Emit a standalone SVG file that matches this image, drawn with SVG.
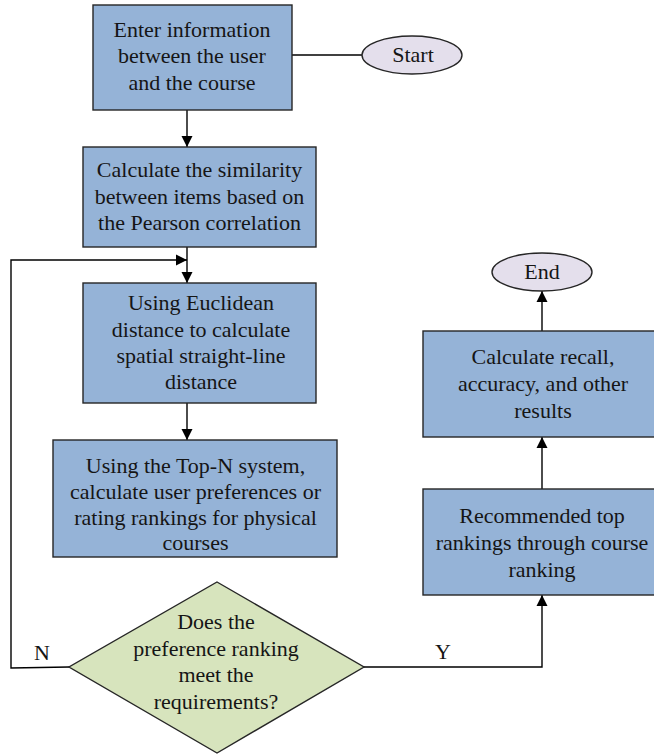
<svg xmlns="http://www.w3.org/2000/svg" width="654" height="755" viewBox="0 0 654 755">
  <style>
    .box { fill: #95b3d7; stroke: #262626; stroke-width: 1.4; }
    .term { fill: #e4dfec; stroke: #262626; stroke-width: 1.4; }
    .dec { fill: #d7e4bd; stroke: #262626; stroke-width: 1.4; }
    .wire { fill: none; stroke: #000; stroke-width: 1.4; }
    text { font-family: "Liberation Serif", "Times New Roman", serif; font-size: 22px; fill: #151515; text-anchor: middle; }
  </style>
  <defs>
    <marker id="arrow" markerUnits="userSpaceOnUse" markerWidth="12" markerHeight="12" refX="11" refY="6" orient="auto">
      <path d="M0,0.5 L11,6 L0,11.5 z" fill="#000"/>
    </marker>
  </defs>

  <rect width="654" height="755" fill="#fff"/>

  <!-- connectors -->
  <g id="connectors">
    <line class="wire" x1="362" y1="55" x2="292" y2="55"/>
    <line class="wire" x1="187" y1="110" x2="187" y2="147" marker-end="url(#arrow)"/>
    <line class="wire" x1="187" y1="247" x2="187" y2="283" marker-end="url(#arrow)"/>
    <polyline class="wire" points="69,667 11,668 11,260 187,260" marker-end="url(#arrow)"/>
    <line class="wire" x1="187" y1="403" x2="187" y2="440" marker-end="url(#arrow)"/>
    <polyline class="wire" points="364,667 542,667 542,595" marker-end="url(#arrow)"/>
    <line class="wire" x1="542" y1="489" x2="542" y2="437" marker-end="url(#arrow)"/>
    <line class="wire" x1="542" y1="331" x2="542" y2="291" marker-end="url(#arrow)"/>
    <text x="42" y="660">N</text>
    <text x="443" y="659">Y</text>
  </g>

  <g id="start">
    <ellipse class="term" cx="412" cy="55" rx="50" ry="19"/>
    <text x="413" y="62">Start</text>
  </g>

  <g id="enter-info">
    <rect class="box" x="93" y="5" width="199" height="105"/>
    <text x="192" y="37">Enter information</text>
    <text x="192" y="63">between the user</text>
    <text x="192" y="90">and the course</text>
  </g>

  <g id="similarity">
    <rect class="box" x="83" y="147" width="233" height="100"/>
    <text x="199.5" y="177">Calculate the similarity</text>
    <text x="199.5" y="204">between items based on</text>
    <text x="199.5" y="230">the Pearson correlation</text>
  </g>

  <g id="euclidean">
    <rect class="box" x="83" y="283" width="233" height="120"/>
    <text x="201" y="310">Using Euclidean</text>
    <text x="201" y="337">distance to calculate</text>
    <text x="201" y="363">spatial straight-line</text>
    <text x="201" y="389">distance</text>
  </g>

  <g id="top-n">
    <rect class="box" x="53" y="440" width="284" height="117"/>
    <text x="195.5" y="473">Using the Top-N system,</text>
    <text x="195.5" y="499">calculate user preferences or</text>
    <text x="195.5" y="525">rating rankings for physical</text>
    <text x="195.5" y="550">courses</text>
  </g>

  <g id="decision">
    <polygon class="dec" points="217,582 364,667 217,753 69,667"/>
    <text x="216" y="629">Does the</text>
    <text x="216" y="656">preference ranking</text>
    <text x="216" y="682">meet the</text>
    <text x="216" y="709">requirements?</text>
  </g>

  <g id="recommend">
    <rect class="box" x="423" y="489" width="235" height="106"/>
    <text x="542" y="523">Recommended top</text>
    <text x="542" y="550">rankings through course</text>
    <text x="542" y="577">ranking</text>
  </g>

  <g id="metrics">
    <rect class="box" x="423" y="331" width="235" height="106"/>
    <text x="543" y="364">Calculate recall,</text>
    <text x="543" y="391">accuracy, and other</text>
    <text x="543" y="418">results</text>
  </g>

  <g id="end">
    <ellipse class="term" cx="542" cy="272" rx="50" ry="19"/>
    <text x="542" y="279">End</text>
  </g>
</svg>
